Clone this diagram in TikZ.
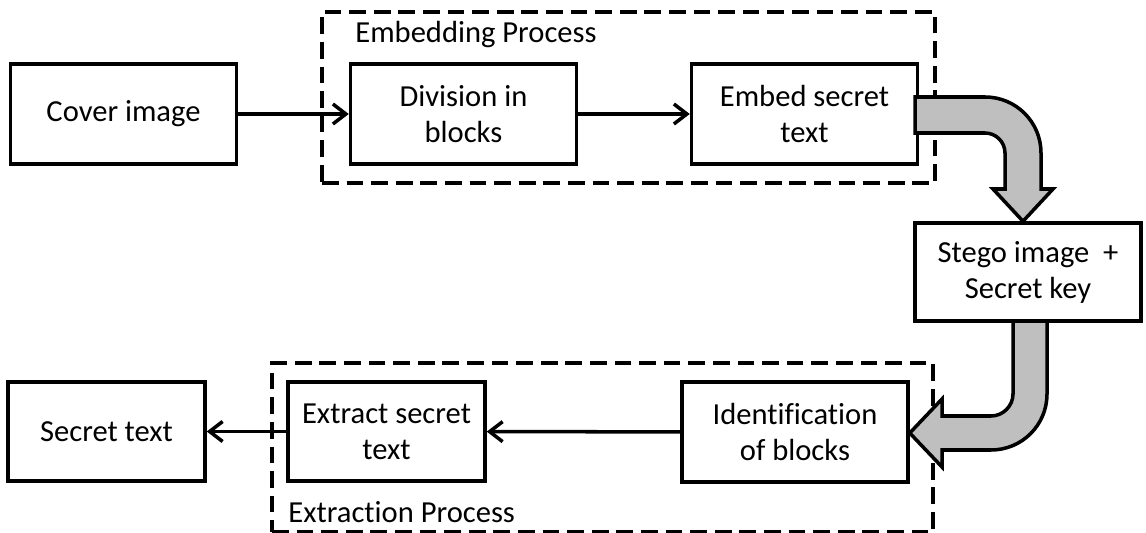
\documentclass[tikz,border=0pt]{standalone}
\usepackage{fontspec}
\setmainfont[Ligatures=NoCommon]{Carlito}
\usetikzlibrary{calc, arrows.meta}
\tikzset{>={Straight Barb[length=2.6mm,width=4mm]},
  blk/.style={draw, line width=2pt, align=center, inner sep=0pt,
    minimum width=4.52cm, minimum height=2cm,
    font=\fontsize{17.4}{20.5}\selectfont},
  grp/.style={draw, line width=2pt, dash pattern=on 9.5pt off 4.5pt,
    inner sep=0pt},
  tag/.style={anchor=base west, inner sep=0pt,
    font=\fontsize{17.4}{20.5}\selectfont},
  fat/.style={draw, line width=2pt, fill=gray!50, line join=miter}}

\begin{document}
\begin{tikzpicture}[x=0.02cm, y=-0.02cm]
\useasboundingbox (0,0) rectangle (1146,533);
\node[grp, minimum width=12.26cm, minimum height=3.42cm] (embgrp) at (628.5,97.5) {};
\node[grp, minimum width=13.22cm, minimum height=3.38cm] (extgrp) at (602.5,447.5) {};
\node[tag] (embtag) at (355,43) {Embedding Process};
\node[tag] (exttag) at (288,522) {Extraction Process};

\node[blk] (cover) at (123.5,114) {Cover image};
\node[blk] (division) at (463.5,114) {Division in\\blocks};
\node[blk] (embed) at (804.5,114) {Embed secret\\text};
\node[blk, minimum height=1.96cm] (stego) at (1028,272) {Stego image~~+\\Secret key};
\node[blk] (ident) at (795,432) {Identification\\of blocks};
\node[blk, minimum width=3.94cm, minimum height=1.98cm] (extract) at (386.5,431.5) {Extract secret\\text};
\node[blk, minimum width=3.94cm, minimum height=1.98cm] (secret) at (106.5,431.5) {Secret text};

\draw[line width=2pt,->] (cover)--(division);
\draw[line width=2pt,->] (division)--(embed);
\draw[line width=2pt,->] (ident)--(extract);
\draw[line width=2pt,->] (extract)--(secret);

\draw[fat] (915,97) -- (985,97) .. controls (1016,97) and (1041,122) .. (1041,153)
  -- (1041,189) -- (1053,189) -- (stego.north -| 1023,0) -- (993,189) -- (1005,189)
  -- (1005,153) .. controls (1005,142) and (996,133) .. (985,133) -- (915,133) -- cycle;
\draw[fat] (1013,321) -- (1047,321) -- (1047,394) .. controls (1047,425) and (1022,450) .. (991,450)
  -- (942,450) -- (942,467) -- (ident.east |- 0,433) -- (942,399) -- (942,416) -- (991,416)
  .. controls (1003,416) and (1013,406) .. (1013,394) -- cycle;
\end{tikzpicture}
\end{document}
